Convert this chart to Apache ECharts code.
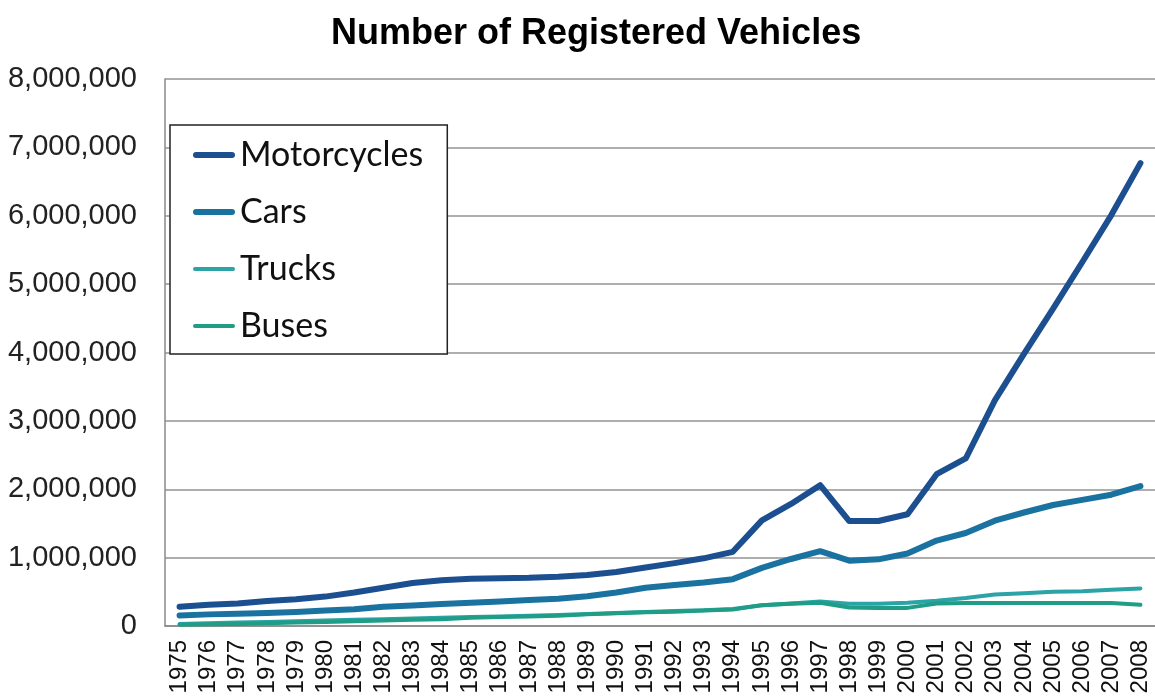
<!DOCTYPE html>
<html>
<head>
<meta charset="utf-8">
<script src="https://cdn.jsdelivr.net/npm/echarts@6/dist/echarts.min.js"></script>
<style>
  html, body { margin: 0; padding: 0; background: #fff; }
  #chart { width: 1155px; height: 697px; }
</style>
</head>
<body>
<div id="chart"></div>
<script>
  const years = ['1975', '1976', '1977', '1978', '1979', '1980', '1981', '1982', '1983', '1984',
    '1985', '1986', '1987', '1988', '1989', '1990', '1991', '1992', '1993', '1994',
    '1995', '1996', '1997', '1998', '1999', '2000', '2001', '2002', '2003', '2004',
    '2005', '2006', '2007', '2008']

  const motorcycles = [280000, 310000, 330000, 365000, 390000, 430000, 490000, 560000, 630000, 670000,
    690000, 700000, 705000, 720000, 745000, 790000, 855000, 920000, 990000, 1085000,
    1545000, 1785000, 2060000, 1535000, 1535000, 1635000, 2220000, 2450000, 3300000, 3980000,
    4640000, 5320000, 6010000, 6770000]

  const cars = [155000, 170000, 180000, 190000, 205000, 225000, 245000, 280000, 300000, 320000,
    340000, 360000, 380000, 400000, 435000, 490000, 560000, 600000, 635000, 685000,
    850000, 980000, 1095000, 955000, 975000, 1060000, 1250000, 1360000, 1540000, 1660000,
    1770000, 1845000, 1920000, 2045000]

  const trucks = [30000, 40000, 50000, 60000, 70000, 80000, 90000, 100000, 110000, 120000,
    130000, 140000, 150000, 160000, 175000, 190000, 205000, 220000, 230000, 250000,
    305000, 330000, 360000, 325000, 325000, 340000, 370000, 410000, 460000, 480000,
    500000, 510000, 530000, 550000]

  const buses = [20000, 25000, 30000, 40000, 50000, 60000, 70000, 80000, 90000, 100000,
    120000, 130000, 140000, 150000, 170000, 185000, 200000, 210000, 225000, 240000,
    305000, 325000, 340000, 270000, 265000, 265000, 330000, 335000, 335000, 335000,
    335000, 335000, 335000, 310000]

  const chart = echarts.init(document.getElementById('chart'))

  const line = (name, data, color, width) => ({
    name: name,
    type: 'line',
    data: data,
    symbol: 'none',
    smooth: false,
    color: color,
    lineStyle: {color: color, width: width, cap: 'round', join: 'round'}
  })

  // legend marks are plain bars, thicker for the two big series
  const thick = 'path://M3,0H39A3,3 0 0 1 39,6H3A3,3 0 0 1 3,0Z'
  const thin = 'path://M2,0H40A2,2 0 0 1 40,4H2A2,2 0 0 1 2,0Z'

  chart.setOption({
    animation: false,
    backgroundColor: '#fff',
    title: {
      text: 'Number of Registered Vehicles',
      left: 326,
      top: 11,
      textStyle: {
        fontFamily: 'Liberation Sans',
        fontWeight: 'bold',
        fontSize: 36,
        color: '#000'
      }
    },
    legend: {
      orient: 'vertical',
      left: 170,
      top: 125,
      padding: [13, 24, 11, 23],
      itemGap: 23,
      itemWidth: 42,
      itemHeight: 6,
      backgroundColor: '#fff',
      borderColor: '#222',
      borderWidth: 1.5,
      borderRadius: 0,
      textStyle: {fontFamily: 'Lato', fontSize: 34, color: '#111'},
      data: [
        {name: 'Motorcycles', icon: thick},
        {name: 'Cars', icon: thick},
        {name: 'Trucks', icon: thin},
        {name: 'Buses', icon: thin}
      ]
    },
    grid: {left: 165, right: 0, top: 79, bottom: 71, containLabel: false},
    xAxis: {
      type: 'category',
      data: years,
      boundaryGap: true,
      axisLine: {lineStyle: {color: '#888', width: 1.5}},
      axisTick: {show: false},
      axisLabel: {
        rotate: 90,
        interval: 0,
        margin: 14,
        fontFamily: 'Liberation Sans',
        fontSize: 24,
        color: '#111'
      }
    },
    yAxis: {
      type: 'value',
      min: 0,
      max: 8000000,
      interval: 1000000,
      axisLine: {show: true, lineStyle: {color: '#888', width: 1.5}},
      axisTick: {show: false},
      splitLine: {lineStyle: {color: '#939393', width: 1.5}},
      axisLabel: {
        margin: 28,
        fontFamily: 'Liberation Sans',
        fontSize: 29,
        color: '#222',
        formatter: v => v.toLocaleString('en-US')
      }
    },
    series: [
      line('Motorcycles', motorcycles, '#1b4f8f', 6),
      line('Cars', cars, '#1a72a0', 6),
      line('Trucks', trucks, '#2ba3a7', 4),
      line('Buses', buses, '#1f9d86', 4)
    ]
  })
</script>
</body>
</html>
